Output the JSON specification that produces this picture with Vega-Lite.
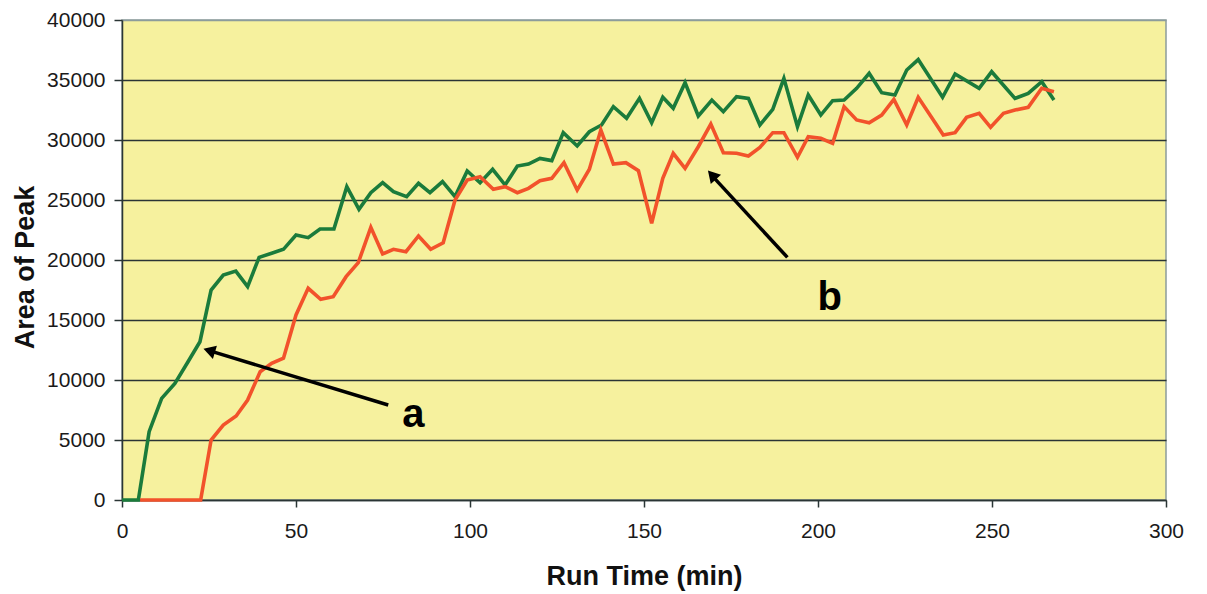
{
  "$schema": "https://vega.github.io/schema/vega-lite/v6.json",
  "autosize": {"type": "none"},
  "padding": {"left": 122, "top": 20, "right": 41, "bottom": 94},
  "width": 1044,
  "height": 480,
  "background": "white",
  "config": {
    "font": "Liberation Sans",
    "view": {"fill": "#F6F19E", "stroke": "#8C9C9C", "strokeWidth": 1.5}
  },
  "datasets": {
    "series": [
      {"series": "a", "t": 0, "area": 0},
      {"series": "a", "t": 4.7, "area": 0},
      {"series": "a", "t": 7.8, "area": 5700},
      {"series": "a", "t": 11.4, "area": 8470},
      {"series": "a", "t": 15.2, "area": 9720},
      {"series": "a", "t": 18.8, "area": 11440},
      {"series": "a", "t": 22.4, "area": 13190},
      {"series": "a", "t": 25.6, "area": 17500},
      {"series": "a", "t": 29.1, "area": 18750},
      {"series": "a", "t": 32.7, "area": 19080},
      {"series": "a", "t": 36.1, "area": 17780},
      {"series": "a", "t": 39.4, "area": 20220},
      {"series": "a", "t": 43, "area": 20560},
      {"series": "a", "t": 46.4, "area": 20890},
      {"series": "a", "t": 50, "area": 22080},
      {"series": "a", "t": 53.5, "area": 21860},
      {"series": "a", "t": 56.9, "area": 22580},
      {"series": "a", "t": 60.9, "area": 22580},
      {"series": "a", "t": 64.6, "area": 26110},
      {"series": "a", "t": 68.1, "area": 24220},
      {"series": "a", "t": 71.5, "area": 25610},
      {"series": "a", "t": 74.9, "area": 26440},
      {"series": "a", "t": 78, "area": 25690},
      {"series": "a", "t": 81.8, "area": 25280},
      {"series": "a", "t": 85.2, "area": 26390},
      {"series": "a", "t": 88.5, "area": 25610},
      {"series": "a", "t": 92.1, "area": 26530},
      {"series": "a", "t": 95.7, "area": 25280},
      {"series": "a", "t": 99.2, "area": 27420},
      {"series": "a", "t": 102.9, "area": 26440},
      {"series": "a", "t": 106.5, "area": 27560},
      {"series": "a", "t": 110.1, "area": 26250},
      {"series": "a", "t": 113.6, "area": 27830},
      {"series": "a", "t": 116.8, "area": 28000},
      {"series": "a", "t": 120.1, "area": 28470},
      {"series": "a", "t": 123.5, "area": 28280},
      {"series": "a", "t": 126.8, "area": 30610},
      {"series": "a", "t": 130.8, "area": 29500},
      {"series": "a", "t": 134.3, "area": 30690},
      {"series": "a", "t": 137.8, "area": 31250},
      {"series": "a", "t": 141.2, "area": 32780},
      {"series": "a", "t": 145, "area": 31810},
      {"series": "a", "t": 148.7, "area": 33470},
      {"series": "a", "t": 152.2, "area": 31440},
      {"series": "a", "t": 155.4, "area": 33560},
      {"series": "a", "t": 158.4, "area": 32640},
      {"series": "a", "t": 161.8, "area": 34780},
      {"series": "a", "t": 165.6, "area": 32000},
      {"series": "a", "t": 169.5, "area": 33330},
      {"series": "a", "t": 172.8, "area": 32360},
      {"series": "a", "t": 176.6, "area": 33610},
      {"series": "a", "t": 180, "area": 33470},
      {"series": "a", "t": 183.3, "area": 31250},
      {"series": "a", "t": 187, "area": 32560},
      {"series": "a", "t": 190.2, "area": 35140},
      {"series": "a", "t": 194.1, "area": 31110},
      {"series": "a", "t": 197.2, "area": 33750},
      {"series": "a", "t": 200.8, "area": 32080},
      {"series": "a", "t": 204.2, "area": 33280},
      {"series": "a", "t": 207.5, "area": 33330},
      {"series": "a", "t": 211.1, "area": 34310},
      {"series": "a", "t": 214.7, "area": 35560},
      {"series": "a", "t": 218.3, "area": 33940},
      {"series": "a", "t": 222.1, "area": 33750},
      {"series": "a", "t": 225.5, "area": 35830},
      {"series": "a", "t": 228.8, "area": 36700},
      {"series": "a", "t": 235.8, "area": 33560},
      {"series": "a", "t": 239.4, "area": 35500},
      {"series": "a", "t": 246.3, "area": 34310},
      {"series": "a", "t": 249.9, "area": 35690},
      {"series": "a", "t": 256.6, "area": 33470},
      {"series": "a", "t": 260.4, "area": 33890},
      {"series": "a", "t": 264.3, "area": 34860},
      {"series": "a", "t": 267.8, "area": 33330},
      {"series": "b", "t": 5.2, "area": 0},
      {"series": "b", "t": 22.6, "area": 0},
      {"series": "b", "t": 25.6, "area": 5000},
      {"series": "b", "t": 29.1, "area": 6250},
      {"series": "b", "t": 32.8, "area": 7000},
      {"series": "b", "t": 36.1, "area": 8330},
      {"series": "b", "t": 39.7, "area": 10690},
      {"series": "b", "t": 43, "area": 11390},
      {"series": "b", "t": 46.4, "area": 11810},
      {"series": "b", "t": 50, "area": 15420},
      {"series": "b", "t": 53.5, "area": 17640},
      {"series": "b", "t": 57.1, "area": 16720},
      {"series": "b", "t": 60.7, "area": 16940},
      {"series": "b", "t": 64.4, "area": 18610},
      {"series": "b", "t": 67.9, "area": 19780},
      {"series": "b", "t": 71.5, "area": 22720},
      {"series": "b", "t": 74.9, "area": 20500},
      {"series": "b", "t": 78, "area": 20890},
      {"series": "b", "t": 81.6, "area": 20690},
      {"series": "b", "t": 85.2, "area": 22000},
      {"series": "b", "t": 88.7, "area": 20890},
      {"series": "b", "t": 92.3, "area": 21440},
      {"series": "b", "t": 95.7, "area": 25000},
      {"series": "b", "t": 99.2, "area": 26670},
      {"series": "b", "t": 102.9, "area": 26940},
      {"series": "b", "t": 106.7, "area": 25890},
      {"series": "b", "t": 110.1, "area": 26110},
      {"series": "b", "t": 113.6, "area": 25610},
      {"series": "b", "t": 116.8, "area": 25970},
      {"series": "b", "t": 120.1, "area": 26610},
      {"series": "b", "t": 123.5, "area": 26810},
      {"series": "b", "t": 127, "area": 28110},
      {"series": "b", "t": 130.8, "area": 25830},
      {"series": "b", "t": 134.3, "area": 27560},
      {"series": "b", "t": 137.6, "area": 30830},
      {"series": "b", "t": 141.2, "area": 28000},
      {"series": "b", "t": 144.8, "area": 28110},
      {"series": "b", "t": 148.4, "area": 27440},
      {"series": "b", "t": 152.2, "area": 23060},
      {"series": "b", "t": 155.4, "area": 26810},
      {"series": "b", "t": 158.4, "area": 28890},
      {"series": "b", "t": 161.8, "area": 27640},
      {"series": "b", "t": 165.6, "area": 29440},
      {"series": "b", "t": 169.2, "area": 31330},
      {"series": "b", "t": 172.8, "area": 28940},
      {"series": "b", "t": 176.6, "area": 28890},
      {"series": "b", "t": 180, "area": 28670},
      {"series": "b", "t": 183.3, "area": 29390},
      {"series": "b", "t": 187, "area": 30610},
      {"series": "b", "t": 190.2, "area": 30610},
      {"series": "b", "t": 194.1, "area": 28560},
      {"series": "b", "t": 197.2, "area": 30280},
      {"series": "b", "t": 200.8, "area": 30140},
      {"series": "b", "t": 204.2, "area": 29720},
      {"series": "b", "t": 207.5, "area": 32780},
      {"series": "b", "t": 211.1, "area": 31670},
      {"series": "b", "t": 214.7, "area": 31440},
      {"series": "b", "t": 218.3, "area": 32080},
      {"series": "b", "t": 221.8, "area": 33390},
      {"series": "b", "t": 225.5, "area": 31250},
      {"series": "b", "t": 228.8, "area": 33560},
      {"series": "b", "t": 236, "area": 30420},
      {"series": "b", "t": 239.4, "area": 30610},
      {"series": "b", "t": 242.7, "area": 31890},
      {"series": "b", "t": 246.3, "area": 32220},
      {"series": "b", "t": 249.6, "area": 31060},
      {"series": "b", "t": 253.3, "area": 32220},
      {"series": "b", "t": 256.6, "area": 32500},
      {"series": "b", "t": 260.4, "area": 32720},
      {"series": "b", "t": 264.3, "area": 34310},
      {"series": "b", "t": 267.8, "area": 34030}
    ],
    "arrows": [
      {"label": "a", "t": 76.5, "area": 7920, "t2": 26.0, "area2": 12360},
      {"label": "b", "t": 191.2, "area": 20220, "t2": 170.2, "area2": 26820}
    ],
    "labels": [
      {"label": "a", "t": 83.7, "area": 6110},
      {"label": "b", "t": 203.4, "area": 15830}
    ]
  },
  "layer": [
    {
      "data": {"name": "series"},
      "mark": {"type": "line", "strokeWidth": 3.6, "strokeJoin": "miter"},
      "encoding": {
        "x": {
          "field": "t", "type": "quantitative",
          "scale": {"domain": [0, 300], "nice": false},
          "axis": {
            "title": "Run Time (min)",
            "values": [0, 50, 100, 150, 200, 250, 300],
            "grid": false,
            "domainColor": "#2A3535", "domainWidth": 1.5,
            "tickColor": "#2A3535", "tickWidth": 1.5, "tickSize": 7,
            "labelFontSize": 21, "labelColor": "#1A1A1A", "labelPadding": 13, "labelFlush": false,
            "titleFontSize": 27, "titleFontWeight": "bold", "titleColor": "#111111",
            "titleY": 84, "titleBaseline": "alphabetic"
          }
        },
        "y": {
          "field": "area", "type": "quantitative",
          "scale": {"domain": [0, 40000], "nice": false},
          "axis": {
            "title": "Area of Peak",
            "values": [0, 5000, 10000, 15000, 20000, 25000, 30000, 35000, 40000],
            "format": "d",
            "grid": true,
            "gridColor": {"condition": {"test": "datum.value == 40000", "value": "#8C9C9C"}, "value": "#2A3535"},
            "gridWidth": 1.5,
            "domainColor": "#2A3535", "domainWidth": 1.5,
            "tickColor": "#2A3535", "tickWidth": 1.5, "tickSize": 8,
            "labelFontSize": 21, "labelColor": "#1A1A1A", "labelPadding": 9, "labelFlush": false,
            "titleFontSize": 27, "titleFontWeight": "bold", "titleColor": "#111111",
            "titleX": -89, "titleY": 247, "titleBaseline": "alphabetic"
          }
        },
        "color": {
          "field": "series", "type": "nominal",
          "scale": {"domain": ["a", "b"], "range": ["#1B7B3B", "#F2522B"]},
          "legend": null
        }
      }
    },
    {
      "data": {"name": "arrows"},
      "mark": {"type": "rule", "color": "#000000", "strokeWidth": 3.5},
      "encoding": {
        "x": {"field": "t", "type": "quantitative"},
        "y": {"field": "area", "type": "quantitative"},
        "x2": {"field": "t2"},
        "y2": {"field": "area2"}
      }
    },
    {
      "data": {"values": [{"t": 25.6, "area": 12400}]},
      "mark": {"type": "point", "shape": "triangle", "filled": true, "color": "#000000", "size": 190, "angle": 287, "opacity": 1},
      "encoding": {
        "x": {"field": "t", "type": "quantitative"},
        "y": {"field": "area", "type": "quantitative"}
      }
    },
    {
      "data": {"values": [{"t": 169.9, "area": 26960}]},
      "mark": {"type": "point", "shape": "triangle", "filled": true, "color": "#000000", "size": 190, "angle": 318, "opacity": 1},
      "encoding": {
        "x": {"field": "t", "type": "quantitative"},
        "y": {"field": "area", "type": "quantitative"}
      }
    },
    {
      "data": {"name": "labels"},
      "mark": {"type": "text", "fontSize": 40, "fontWeight": "bold", "align": "center", "baseline": "alphabetic", "color": "#000000"},
      "encoding": {
        "x": {"field": "t", "type": "quantitative"},
        "y": {"field": "area", "type": "quantitative"},
        "text": {"field": "label"}
      }
    }
  ]
}
